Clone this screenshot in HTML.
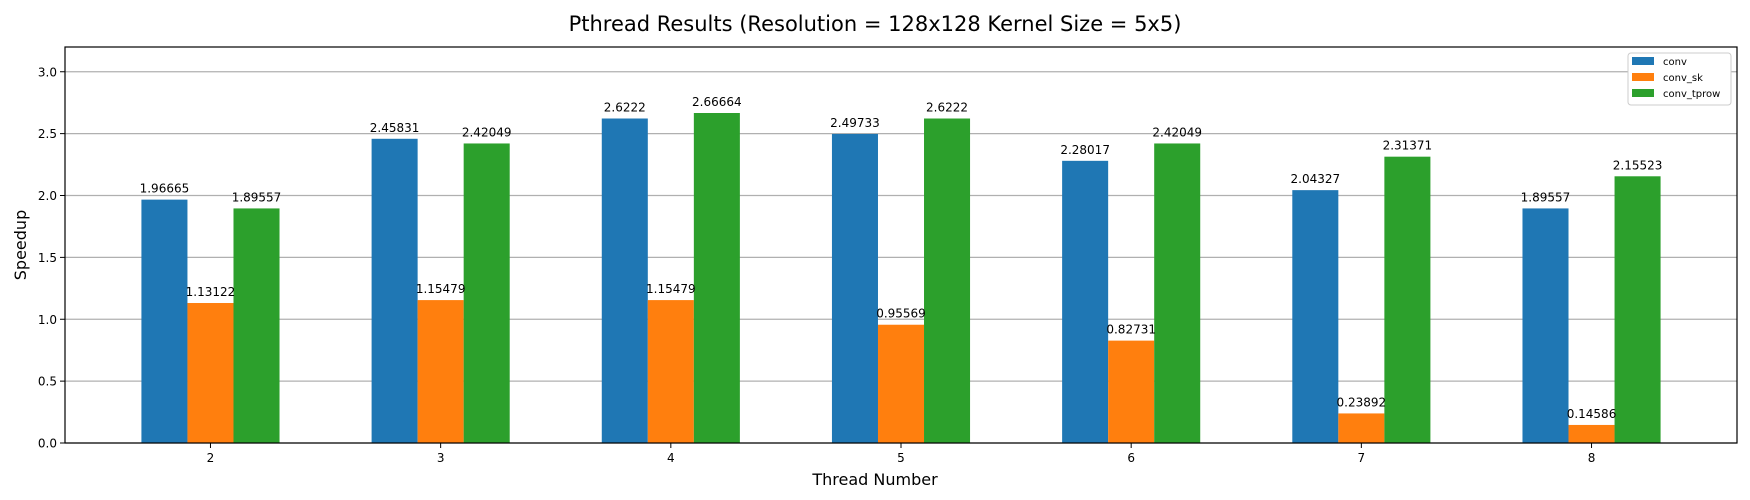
<!DOCTYPE html>
<html><head><meta charset="utf-8"><style>
body{margin:0;background:#fff;}
svg{display:block;font-family:"DejaVu Sans","Liberation Sans",sans-serif;}
</style></head><body>
<svg id="chart" width="1750" height="500" xmlns="http://www.w3.org/2000/svg">
<text x="875" y="31" text-anchor="middle" font-size="21">Pthread Results (Resolution = 128x128 Kernel Size = 5x5)</text>
<g id="grid"></g><g id="bars"></g><g id="labels"></g><g id="axes"></g>
<text x="875" y="485" text-anchor="middle" font-size="16">Thread Number</text>
<text transform="translate(26,245) rotate(-90)" text-anchor="middle" font-size="16">Speedup</text>
<g id="legend"></g>
</svg>
<script>
const categories=[2,3,4,5,6,7,8];
const seriesNames=["conv","conv_sk","conv_tprow"];
const convValues=[1.96665,2.45831,2.6222,2.49733,2.28017,2.04327,1.89557];
const convSkValues=[1.13122,1.15479,1.15479,0.95569,0.82731,0.23892,0.14586];
const convTprowValues=[1.89557,2.42049,2.66664,2.6222,2.42049,2.31371,2.15523];
const yTicks=[0.0,0.5,1.0,1.5,2.0,2.5,3.0];
const colors=["#1f77b4","#ff7f0e","#2ca02c"];
const L=65,R=1737,T=47,B=443,XMIN=1.368,XMAX=8.632,YMAX=3.2;
const NS="http://www.w3.org/2000/svg";
const xs=v=>L+(v-XMIN)/(XMAX-XMIN)*(R-L);
const ys=v=>B-v/YMAX*(B-T);
function mk(tag,attrs,parent,text){const e=document.createElementNS(NS,tag);for(const k in attrs)e.setAttribute(k,attrs[k]);if(text!==undefined)e.textContent=text;document.getElementById(parent).appendChild(e);return e;}
yTicks.forEach(t=>{
 const g=mk("line",{x1:L,x2:R,y1:ys(t),y2:ys(t),stroke:"#b0b0b0","stroke-width":1.2},"grid");
 
 
 const tk=mk("line",{x1:L-5,x2:L,y1:ys(t),y2:ys(t),stroke:"#000"},"axes");
 
 
 const tl=mk("text",{x:L-8,y:ys(t)+4.5,"text-anchor":"end","font-size":12},"axes",t.toFixed(1));
 
 
});
const all=[convValues,convSkValues,convTprowValues];
const bw=0.2;
categories.forEach((c,i)=>{
 all.forEach((arr,s)=>{
  const x0=xs(c+(s-1)*bw-bw/2),x1=xs(c+(s-1)*bw+bw/2);
  const r=mk("rect",{x:x0,y:ys(arr[i]),width:x1-x0,height:B-ys(arr[i]),fill:colors[s]},"bars");
  
  
  const t=mk("text",{x:(x0+x1)/2,y:ys(arr[i])-7,"text-anchor":"middle","font-size":12},"labels",String(arr[i]));
  
  
 });
 const tk=mk("line",{x1:xs(c),x2:xs(c),y1:B,y2:B+5,stroke:"#000"},"axes");
 
 
 const tl=mk("text",{x:xs(c),y:B+19,"text-anchor":"middle","font-size":12},"axes",String(c));
 
 
});
const fr=mk("rect",{x:L,y:T,width:R-L,height:B-T,fill:"none",stroke:"#000","stroke-width":1.2},"axes");


const lb=mk("rect",{x:1628,y:53,width:103,height:52,fill:"#fff",stroke:"#ccc",rx:3},"legend");


seriesNames.forEach((n,s)=>{
 const y=57+s*16;
 const sw=mk("rect",{x:1632,y:y,width:22,height:8,fill:colors[s]},"legend");
 
 
 const t=mk("text",{x:1663,y:y+8,"font-size":10},"legend",n);
 
 
});
</script>
</body></html>
